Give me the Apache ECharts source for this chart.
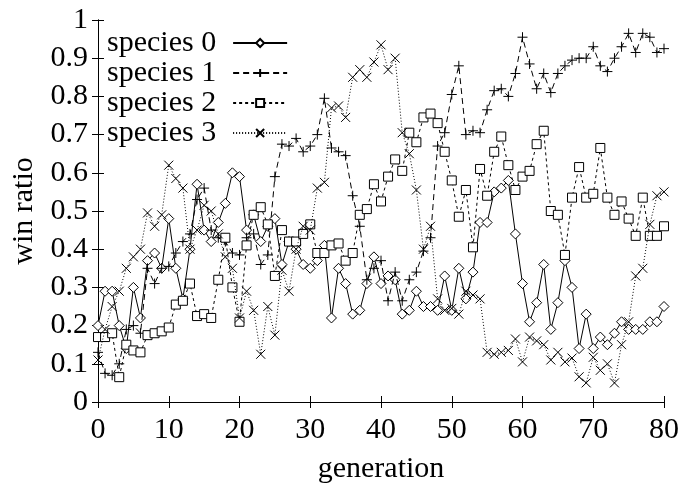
<!DOCTYPE html>
<html>
<head>
<meta charset="utf-8">
<script src="https://cdn.jsdelivr.net/npm/echarts@6/dist/echarts.min.js"></script>
<style>
html,body{margin:0;padding:0;background:#fff;}
#chart{width:682px;height:489px;}
</style>
</head>
<body>
<div id="chart"></div>
<script>
// generation numbers 0..80
const generations = [];
for (let i = 0; i <= 80; i++) generations.push(i);

const seriesNames = ['species 0', 'species 1', 'species 2', 'species 3'];

const species0 = [
0.20,0.29,0.29,0.20,0.14,0.30,0.22,0.37,0.39,0.35,0.48,
0.35,0.27,0.40,0.57,0.45,0.42,0.47,0.52,0.60,0.59,
0.45,0.49,0.42,0.46,0.48,0.36,0.42,0.40,0.36,0.35,
0.37,0.41,0.22,0.35,0.31,0.23,0.24,0.31,0.38,0.31,
0.33,0.32,0.23,0.24,0.29,0.25,0.25,0.24,0.33,0.24,
0.35,0.27,0.34,0.47,0.47,0.55,0.56,0.58,0.44,0.31,
0.21,0.26,0.36,0.19,0.26,0.37,0.30,0.14,0.23,0.14,
0.17,0.15,0.18,0.21,0.19,0.19,0.19,0.21,0.21,0.25];

const species1 = [
0.13,0.075,0.07,0.10,0.19,0.20,0.18,0.35,0.31,0.35,0.355,
0.39,0.42,0.44,0.53,0.56,0.45,0.43,0.42,0.39,0.385,
0.43,0.44,0.36,0.385,0.59,0.675,0.67,0.69,0.655,0.67,
0.70,0.795,0.665,0.655,0.645,0.54,0.46,0.32,0.35,0.37,
0.265,0.34,0.265,0.32,0.34,0.395,0.43,0.67,0.705,0.805,
0.88,0.70,0.71,0.705,0.765,0.815,0.82,0.80,0.86,0.955,
0.885,0.82,0.86,0.81,0.86,0.88,0.895,0.90,0.90,0.93,
0.88,0.865,0.90,0.93,0.965,0.915,0.965,0.955,0.915,0.925];

const species2 = [
0.17,0.17,0.18,0.065,0.15,0.135,0.13,0.175,0.18,0.185,0.195,
0.255,0.265,0.31,0.225,0.23,0.22,0.32,0.43,0.30,0.21,
0.41,0.49,0.51,0.465,0.33,0.45,0.42,0.42,0.44,0.465,
0.39,0.39,0.41,0.415,0.37,0.39,0.49,0.505,0.57,0.525,
0.59,0.635,0.605,0.705,0.68,0.745,0.755,0.73,0.655,0.58,
0.485,0.555,0.405,0.61,0.54,0.655,0.695,0.62,0.555,0.59,
0.605,0.675,0.71,0.50,0.49,0.385,0.535,0.615,0.535,0.545,
0.665,0.535,0.49,0.525,0.48,0.435,0.535,0.435,0.435,0.46];

const species3 = [
0.11,0.19,0.25,0.29,0.35,0.38,0.40,0.495,0.46,0.49,0.62,
0.585,0.56,0.40,0.45,0.515,0.50,0.44,0.38,0.35,0.22,
0.29,0.24,0.125,0.25,0.175,0.345,0.29,0.40,0.46,0.45,
0.56,0.575,0.77,0.775,0.745,0.85,0.87,0.85,0.89,0.935,
0.87,0.90,0.705,0.65,0.555,0.40,0.46,0.27,0.24,0.245,
0.23,0.29,0.28,0.27,0.13,0.125,0.13,0.135,0.165,0.105,
0.17,0.16,0.15,0.11,0.13,0.105,0.115,0.066,0.05,0.117,
0.083,0.10,0.05,0.15,0.21,0.33,0.35,0.465,0.54,0.55];

const xTicks = [0,10,20,30,40,50,60,70,80];
const yTicks = [0,0.1,0.2,0.3,0.4,0.5,0.6,0.7,0.8,0.9,1];

const FONT = '"Liberation Serif", "DejaVu Serif", serif';
const FS = 30;

function pairs(vals){ return vals.map((v,i)=>[generations[i], v]); }

const plusPath = 'path://M0,5 L10,5 M5,0 L5,10';
const crossPath = 'path://M0,0 L10,10 M10,0 L0,10';

const styles = [
  {symbol:'diamond', size:10, dash:'solid'},
  {symbol:plusPath, size:10, dash:[6,4]},
  {symbol:'rect', size:9, dash:[3,3]},
  {symbol:crossPath, size:9, dash:[1,2]}
];
const dataSets = [species0, species1, species2, species3];

const series = dataSets.map((d, k) => ({
  name: seriesNames[k],
  type: 'line',
  data: pairs(d),
  symbol: styles[k].symbol,
  symbolSize: styles[k].size,
  showAllSymbol: true,
  lineStyle: {color:'#000', width:1, type: styles[k].dash},
  itemStyle: {color: (k===1||k===3) ? 'rgba(0,0,0,0)' : '#fff', borderColor:'#000', borderWidth:1},
  emphasis: {disabled: true},
  animation: false,
  z: 2 + k
}));

const chart = echarts.init(document.getElementById('chart'), null, {renderer:'canvas'});
const axisCommon = {
  axisLine: {show:true, lineStyle:{color:'#000', width:1}},
  axisTick: {show:true, inside:true, length:6, lineStyle:{color:'#000'}},
  splitLine: {show:false}
};
chart.setOption({
  animation: false,
  backgroundColor: '#fff',
  grid: {left: 98, right: 16, top: 20, bottom: 76},
  legend: {
    data: seriesNames,
    orient: 'vertical',
    left: 102,
    top: 23,
    align: 'right',
    itemWidth: 54,
    itemHeight: 10,
    itemGap: 0,
    textStyle: {fontFamily: FONT, fontSize: FS, color:'#000', lineHeight: 27, padding:[0,12,0,0]},
    selectedMode: false
  },
  xAxis: [
    Object.assign({
      type:'value', min: xTicks[0], max: xTicks[xTicks.length-1], interval: 10,
      name: 'generation', nameLocation: 'middle', nameGap: 52,
      nameTextStyle: {fontFamily: FONT, fontSize: FS, color:'#000'},
      axisLabel: {fontFamily: FONT, fontSize: FS, color:'#000', margin: 13}
    }, axisCommon),
    Object.assign({
      type:'value', position:'top', min: 0, max: 80, interval: 10,
      axisLabel:{show:false}
    }, axisCommon)
  ],
  yAxis: [
    Object.assign({
      type:'value', min: yTicks[0], max: yTicks[yTicks.length-1], interval: 0.1,
      name: 'win ratio', nameLocation: 'middle', nameGap: 54,
      nameTextStyle: {fontFamily: FONT, fontSize: FS, color:'#000'},
      axisLabel: {fontFamily: FONT, fontSize: FS, color:'#000', margin: 10,
        formatter: v => String(Math.round(v*10)/10)}
    }, axisCommon),
    Object.assign({
      type:'value', position:'right', min: 0, max: 1, interval: 0.1,
      axisLabel:{show:false}
    }, axisCommon)
  ],
  series: series
});
</script>
</body>
</html>
